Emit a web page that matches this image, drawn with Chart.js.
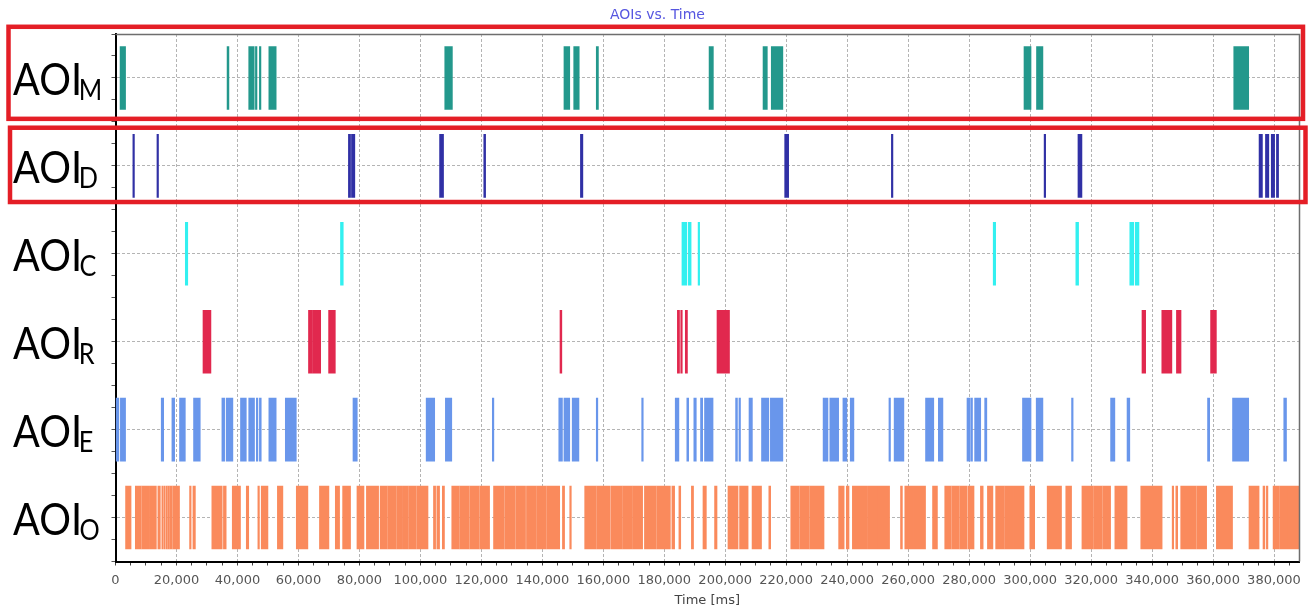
<!DOCTYPE html>
<html>
<head>
<meta charset="utf-8">
<title>AOIs vs. Time</title>
<style>
  html, body { margin: 0; padding: 0; background: #ffffff; }
  #wrap { width: 1310px; height: 610px; position: relative; }
</style>
<script src="https://cdn.jsdelivr.net/npm/chart.js@4.4.1/dist/chart.umd.min.js"></script>
</head>
<body>
<div id="wrap"><canvas id="chart"></canvas></div>
<script>
// Areas of interest, top to bottom
const aoiNames = ['M', 'D', 'C', 'R', 'E', 'O'];
const aoiColors = [
  'rgb(35,152,140)',
  'rgb(48,48,165)',
  'rgb(50,240,240)',
  'rgb(225,40,78)',
  'rgb(105,150,235)',
  'rgb(250,138,92)'
];

// Dwell intervals per AOI, [start, end] in ms
const dwellM = [[1500,3300],[36600,37200],[43700,45500],[45900,46400],[47200,47700],[50300,52700],
  [108000,110500],[147100,149000],[150300,152100],[157700,158400],[194700,196100],[212400,213800],
  [215100,218900],[298000,300300],[302100,304200],[366800,371700]];

const dwellD = [[5700,6200],[13600,14100],[76400,77100],[77400,78500],[106300,107600],[120800,121400],
  [152500,153300],[219500,220800],[254500,255000],[304600,305100],[315700,317000],[375100,376200],
  [377200,378300],[379100,380200],[380800,381500]];

const dwellC = [[22900,23700],[73800,74700],[185800,187400],[187900,188800],[191100,191600],
  [287900,288700],[315000,315900],[332700,334000],[334500,335700]];

const dwellR = [[28700,31300],[63300,64400],[64600,67300],[69900,72100],[145800,146400],[184300,185000],
  [185400,185900],[186900,187600],[197300,201400],[336700,337900],[343200,346500],[348000,349500],
  [359200,361100]];

const dwellE = [[0,1100],[1600,3300],[15000,15800],[18500,19400],[21000,22900],[25600,27800],
  [34900,35800],[36300,38500],[41000,42900],[43700,45600],[46200,46700],[47200,47800],[50300,52700],
  [55700,59300],[77900,79300],[101900,104700],[108200,110300],[123600,124100],[145400,146600],
  [147100,149000],[149800,152000],[157700,158200],[172600,173100],[183600,184800],[187400,188000],
  [189700,190500],[191900,192600],[193200,196000],[203400,204000],[204500,205000],[207800,208900],
  [211900,214300],[214800,218900],[232100,233700],[234300,237200],[238600,239900],[241000,242200],
  [253700,254200],[255400,258600],[265700,268400],[269900,271400],[279300,280200],[280500,281100],
  [281800,283800],[285100,285800],[297500,300300],[302000,304200],[313600,314100],[326400,327800],
  [331800,332700],[358200,358900],[366400,371700],[383200,384100]];

const dwellO = [[3300,5100],[6500,8400],[8600,11200],[11400,13400],[13900,14700],[15200,15500],
  [15800,16300],[16600,17000],[17200,17700],[17900,18600],[18800,21000],[24300,24800],[25400,26200],
  [31600,35000],[35400,36300],[38300,41000],[42900,43700],[46700,47200],[47800,50000],[53100,54900],
  [59300,63100],[66900,70000],[72100,73500],[74500,77100],[79200,81500],[82300,86300],[86800,89200],
  [89400,92000],[92200,93900],[94100,96100],[96300,98600],[98800,102500],[104300,105000],[105400,106300],
  [107200,107900],[110300,112800],[113000,116000],[116200,119300],[119500,122700],[124000,127500],
  [127700,131100],[131300,134500],[134800,137900],[138100,141200],[141400,145700],[146600,147300],
  [149000,149500],[153900,157600],[157800,162300],[162600,166300],[166500,169600],[169800,172900],
  [173500,177300],[177500,182000],[182500,183400],[184800,185400],[188900,189600],[192700,193800],
  [196500,197300],[200900,204200],[204700,207500],[208800,211900],[214300,214900],[221500,224300],
  [224500,227600],[227800,232400],[237200,239000],[239700,240600],[241700,246700],[246900,250000],
  [250200,253900],[257500,258100],[258900,261500],[261700,265700],[268000,269600],[272000,274100],
  [274300,276800],[277000,279300],[279600,281600],[283700,284600],[286000,287800],[288700,291600],
  [291800,294300],[294500,298000],[299900,301500],[305600,310300],[311700,313600],[317000,320600],
  [320800,323600],[323800,326400],[327800,331800],[336300,343300],[346600,347100],[347800,348400],
  [349400,351700],[351900,354500],[354700,357900],[361100,366400],[371800,375100],[376400,377000],
  [377500,378000],[379700,381800],[382000,384500],[384700,388200]];

const dwellSeries = [dwellM, dwellD, dwellC, dwellR, dwellE, dwellO];

// Time axis: minor ticks every 5 s, labels and grid every 20 s
const timeMax = 388200;
const minorStep = 5000;
const labelStep = 20000;
const timeTicks = [];
for (let t = 0; t <= timeMax; t += minorStep) timeTicks.push(t);

// Row axis: quarter-row tick marks, grid on row centres
const rowTicks = [];
for (let v = -0.5; v <= aoiNames.length - 0.5 + 1e-9; v += 0.25) rowTicks.push(v);

// Rows framed in red: [top, bottom] in row units, plus left edge and overhang past the plot
const highlightRows = [
  { top: -0.582, bottom: 0.465, left: 8.5, overhang: 4 },
  { top: 0.566, bottom: 1.411, left: 10, overhang: 6.5 }
];

Chart.defaults.font.family = '"DejaVu Sans", Verdana, sans-serif';

const datasets = dwellSeries.map((list, row) => ({
  label: 'AOI ' + aoiNames[row],
  data: list.map(iv => ({ x: iv, y: row })),
  backgroundColor: aoiColors[row],
  borderWidth: 0,
  grouped: false,
  barThickness: 63
}));

const isWhole = v => Math.abs(v - Math.round(v)) < 1e-6;

// Subscripted row names on the left margin
const rowLabels = {
  id: 'rowLabels',
  afterDraw(chart) {
    const { ctx } = chart;
    const yScale = chart.scales.y;
    const bigFont = '44px Lato, "Open Sans", sans-serif';
    const subFont = '28px Lato, "Open Sans", sans-serif';
    const leftX = 13, inkWidth = 66, gap = 1.5;
    ctx.save();
    ctx.fillStyle = '#000000';
    ctx.textBaseline = 'alphabetic';
    ctx.textAlign = 'left';
    ctx.font = bigFont;
    const m = ctx.measureText('AOI');
    const inkL = -m.actualBoundingBoxLeft;
    const inkR = m.actualBoundingBoxRight;
    const sx = inkWidth / (inkR - inkL);
    aoiNames.forEach((name, i) => {
      const base = yScale.getPixelForValue(i) + 17;
      ctx.save();
      ctx.translate(leftX - inkL * sx, base);
      ctx.scale(sx, 1);
      ctx.font = bigFont;
      ctx.fillText('AOI', 0, 0);
      ctx.restore();
      ctx.font = subFont;
      const ms = ctx.measureText(name);
      const subL = -ms.actualBoundingBoxLeft;
      ctx.save();
      ctx.translate(leftX + inkWidth + gap - subL * sx, base + 5);
      ctx.scale(sx, 1);
      ctx.fillText(name, 0, 0);
      ctx.restore();
    });
    ctx.restore();
  }
};

// Plot frame (top and right) and the red highlight boxes
const frameAndBoxes = {
  id: 'frameAndBoxes',
  afterDraw(chart) {
    const { ctx, chartArea } = chart;
    const yScale = chart.scales.y;
    ctx.save();
    ctx.strokeStyle = '#6e6e6e';
    ctx.lineWidth = 1.5;
    ctx.beginPath();
    ctx.moveTo(chartArea.left, chartArea.top + 0.5);
    ctx.lineTo(chartArea.right + 0.5, chartArea.top + 0.5);
    ctx.lineTo(chartArea.right + 0.5, chartArea.bottom);
    ctx.stroke();

    ctx.strokeStyle = 'rgb(228,30,38)';
    ctx.lineWidth = 4.5;
    highlightRows.forEach(b => {
      const top = yScale.getPixelForValue(b.top);
      const bottom = yScale.getPixelForValue(b.bottom);
      const right = chartArea.right + b.overhang;
      ctx.strokeRect(b.left, top, right - b.left, bottom - top);
    });
    ctx.restore();
  }
};

new Chart(document.getElementById('chart'), {
  type: 'bar',
  data: { datasets },
  options: {
    indexAxis: 'y',
    responsive: true,
    maintainAspectRatio: false,
    animation: false,
    devicePixelRatio: 1,
    layout: { padding: { left: 16, right: 11, top: 0, bottom: 0 } },
    plugins: {
      legend: { display: false },
      tooltip: { enabled: false },
      title: {
        display: true,
        text: 'AOIs vs. Time',
        color: '#5656e0',
        font: { size: 14, weight: 'normal' },
        padding: { top: 6.6, bottom: 10.6 }
      }
    },
    scales: {
      x: {
        type: 'linear',
        position: 'bottom',
        min: 0,
        max: timeMax,
        offset: false,
        afterBuildTicks: s => { s.ticks = timeTicks.map(v => ({ value: v })); },
        ticks: {
          autoSkip: false,
          maxRotation: 0,
          minRotation: 0,
          padding: 7.5,
          color: '#555555',
          font: { size: 13 },
          callback: v => (v % labelStep === 0 ? v.toLocaleString('en-US') : '')
        },
        grid: {
          offset: false,
          color: c => (c.tick && c.tick.value % labelStep === 0 ? '#b4b4b4' : 'rgba(0,0,0,0)'),
          lineWidth: 1,
          tickLength: 4,
          tickColor: '#444444',
          tickWidth: 1
        },
        border: { display: true, color: '#000000', width: 2, dash: [3, 2] },
        title: {
          display: true,
          text: 'Time [ms]',
          color: '#444444',
          font: { size: 13 },
          padding: { top: 0, bottom: 2 }
        },
        afterFit: s => { s.height = 48.5; }
      },
      y: {
        type: 'linear',
        position: 'left',
        reverse: true,
        offset: false,
        min: -0.5,
        max: aoiNames.length - 0.5,
        afterBuildTicks: s => { s.ticks = rowTicks.map(v => ({ value: v })); },
        ticks: { display: false },
        grid: {
          offset: false,
          color: c => (c.tick && isWhole(c.tick.value) ? '#b4b4b4' : 'rgba(0,0,0,0)'),
          lineWidth: 1,
          tickLength: 4,
          tickColor: '#555555',
          tickWidth: 1
        },
        border: { display: true, color: '#000000', width: 2, dash: [3, 2] },
        afterFit: s => { s.width = 99.5; }
      }
    }
  },
  plugins: [rowLabels, frameAndBoxes]
});
</script>
</body>
</html>
